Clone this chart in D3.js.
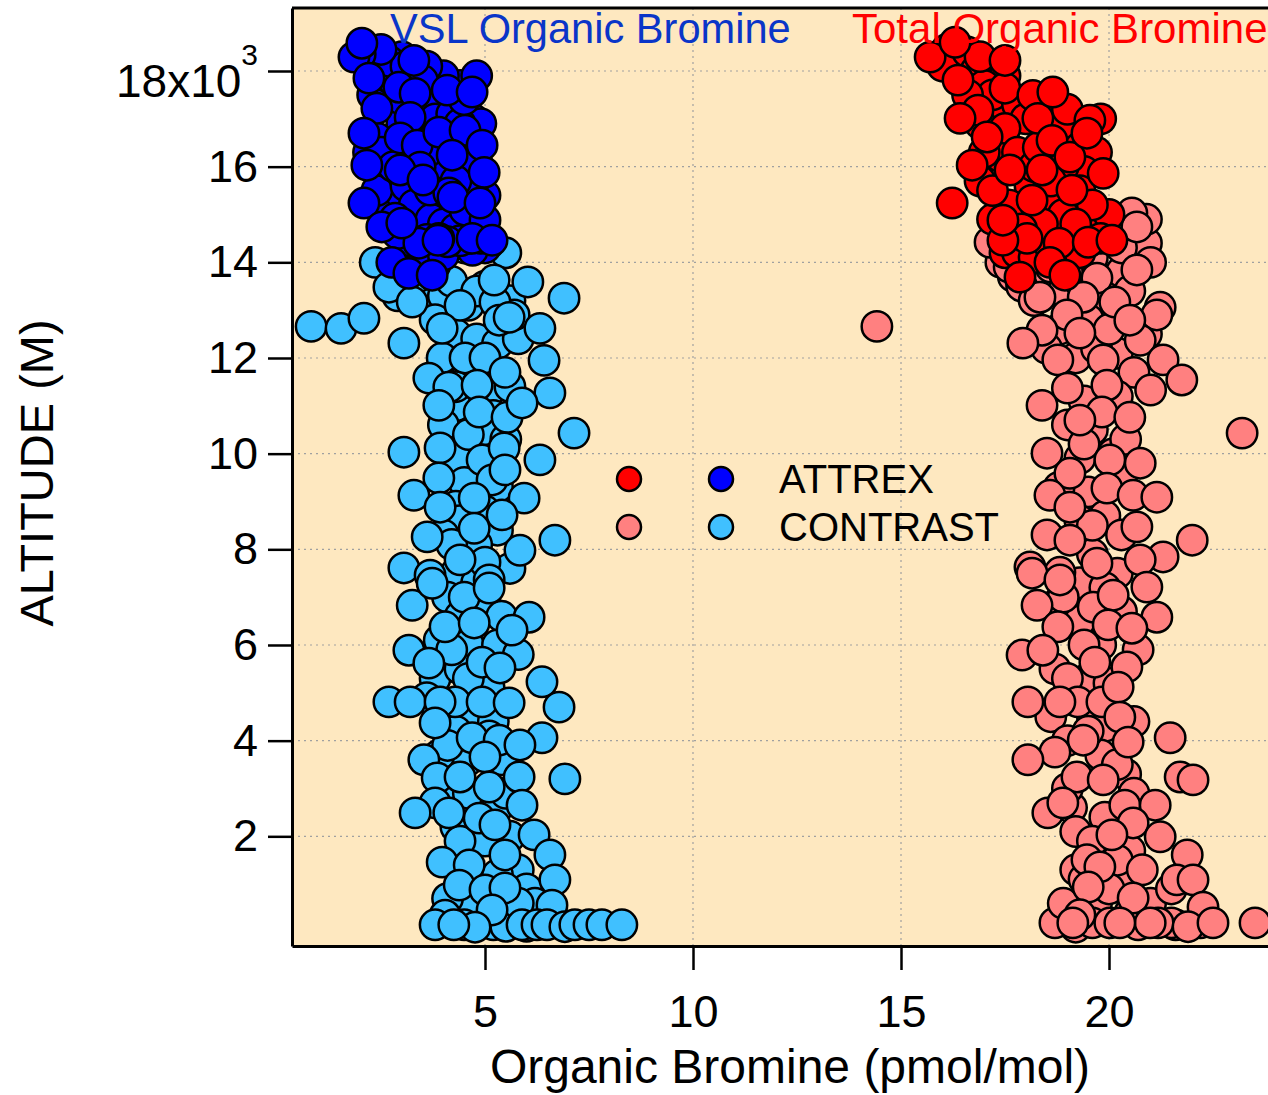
<!DOCTYPE html>
<html>
<head>
<meta charset="utf-8">
<script src="https://cdn.jsdelivr.net/npm/d3@7"></script>
<style>
  body { margin: 0; background: #fff; }
  svg { display: block; font-family: "Liberation Sans", Arial, sans-serif; }
</style>
</head>
<body>
<div id="chart"></div>
<script>
/* DATA: [organic bromine (pmol/mol), altitude (m)] */

// VSL organic bromine, CONTRAST (light blue)
const vslContrast = [
  [3.6,13400],[4.0,13300],[4.6,13100],[5.0,13500],[5.6,13200],[3.8,12800],[4.3,12500],[4.8,12400],
  [5.3,12300],[5.8,12400],[4.1,11800],[4.6,11700],[5.1,11300],[5.6,11400],[4.3,11000],[5.2,10800],
  [4.0,10600],[5.0,10500],[5.5,10300],[4.3,9900],[5.0,9600],[4.5,9400],[5.3,9300],[4.3,8900],
  [5.0,8800],[4.4,8600],[5.3,8400],[4.0,8300],[4.8,8100],[4.3,7500],[4.8,7300],[4.1,7000],
  [5.0,6900],[5.4,6600],[4.4,6600],[3.9,6100],[4.6,6000],[5.3,6000],[3.8,5300],[4.4,5500],
  [5.1,5100],[3.6,4900],[4.6,4500],[5.2,4400],[4.3,4200],[5.1,4100],[3.9,3700],[4.6,3600],
  [5.4,3600],[4.2,3000],[5.3,2600],[4.3,2200],[5.6,2000],[4.6,1800],[5.8,1300],[4.7,1100],
  [6.0,900],[5.2,750],[4.5,500],[5.6,300],[6.2,600],[4.5,150],[5.2,150],[5.5,120],[6.0,120],
  [3.4,13700],[4.2,13600],[4.8,13400],[2.9,13300],[4.5,14300],[5.5,14200],[3.8,13950],[4.4,13100],
  [5.7,12900],[4.3,11400],[4.6,10400],[4.2,8100],[5.6,7600],[4.5,7000],[4.2,5900],[4.6,5300],
  [5.8,5800],[4.1,3900],[4.6,2900],[5.5,2900],[5.0,1900],[4.4,1900],[5.3,1200],[4.1,700],[5.8,600],
  [2.36,14000],[2.69,13480],[3.25,13170],[5.24,13170],[5.22,13630],[6.03,13590],[6.90,13250],[6.32,12620],
  [0.82,12660],[1.54,12620],[2.09,12830],[3.05,12310],[3.97,12000],[4.52,12000],[5.00,12000],[3.97,12620],
  [5.34,12790],[5.58,12850],[5.48,11700],[6.42,11950],[6.56,11270],[3.65,11580],[4.13,11390],[4.81,11430],
  [3.89,11010],[4.86,10870],[5.53,10760],[5.89,11060],[7.14,10430],[3.05,10030],[3.92,10120],[4.93,9870],
  [5.46,10120],[6.32,9870],[5.17,9450],[5.48,9660],[3.89,9490],[3.29,9130],[3.92,8880],[4.74,9070],
  [5.94,9070],[5.41,8720],[4.74,8440],[3.61,8260],[6.68,8190],[5.84,7980],[5.00,7730],[3.05,7610],
  [3.68,7460],[5.10,7360],[4.40,7780],[3.25,6830],[4.04,6380],[4.74,6460],[6.06,6580],[5.65,6310],
  [5.10,7190],[3.73,7290],[3.17,5890],[3.65,5620],[4.93,5640],[5.36,5520],[6.37,5230],[6.78,4700],
  [2.69,4810],[3.20,4810],[4.28,4810],[3.92,4810],[4.93,4810],[5.58,4790],[3.80,4370],[4.69,4060],
  [5.34,4010],[6.37,4060],[5.84,3910],[3.53,3600],[5.00,3660],[3.85,3220],[4.40,3240],[5.82,3240],
  [6.92,3200],[5.10,3030],[3.80,2700],[3.32,2490],[4.13,2490],[4.86,2380],[5.24,2240],[5.89,2650],
  [6.18,2030],[6.56,1610],[3.97,1460],[4.62,1400],[5.48,1610],[4.38,980],[6.68,1090],[5.00,880],
  [5.48,920],[6.61,560],[5.17,460],[4.04,350],[4.76,100],
  [3.80,150],[4.25,150],[5.89,150],[6.25,150],[6.49,150],[6.92,110],[7.16,150],[7.50,150],[7.81,150],[8.29,150]
];

// VSL organic bromine, ATTREX (blue)
const vslAttrex = [
  [3.3,14350],[3.6,14350],[3.9,14380],[4.2,14350],[4.5,14380],[4.8,14380],[5.1,14400],[5.0,14300],
  [4.7,14250],[3.8,14250],[3.5,14200],[4.0,14150],
  [2.6,17500],[3.0,16900],[3.4,17100],[3.9,17300],[4.4,17700],[4.7,17000],[2.4,16600],[2.7,15600],
  [3.3,16000],[3.9,15800],[4.4,16500],[4.9,16900],[2.6,15100],[3.5,15000],[4.2,15100],[4.7,14900],
  [3.0,15400],[5.0,15400],[4.8,17900],[4.0,17900],[3.6,18100],[3.0,18300],[2.3,17500],[2.2,16300],[2.4,15500],
  [2.3,18000],[2.6,17900],[2.8,17800],[3.0,17400],[3.6,17300],[3.8,17000],[4.2,17100],[4.4,16900],
  [2.5,16300],[2.8,16000],[3.1,15600],[3.3,15200],[3.7,14900],[4.0,14800],[4.3,14700],[4.6,14500],
  [4.9,14500],[4.4,14450],[4.1,14430],[3.6,14480],[3.2,14450],[2.9,14600],[4.7,15600],[4.0,16000],
  [3.6,16300],[2.7,18200],[3.1,18100],[2.5,18450],[2.0,18350],[3.5,17800],[4.5,17400],[4.8,16100],[4.3,15700],
  [1.85,18290],[2.04,18580],[2.21,17850],[2.40,17220],[3.29,18220],[2.93,17660],[3.32,17530],[4.09,17600],
  [4.69,17560],[3.20,17030],[2.09,16700],[2.96,16600],[3.37,16450],[3.89,16720],[4.52,16760],[4.93,16450],
  [2.16,16030],[4.21,16240],[3.44,15990],[2.96,15930],[4.98,15880],[2.09,15240],[3.68,15510],[4.13,15450],
  [4.52,15090],[2.84,14920],[5.00,14880],[3.89,14500],[2.76,14000],[3.41,14400],[4.69,14500],[5.17,14460],
  [2.52,14740],[3.00,14820],[3.51,15720],[4.23,15360],[4.88,15240],[3.87,14460],[3.17,13770],[3.73,13730]
];

// Total organic bromine, CONTRAST (pink)
const totalContrast = [
  [17.4,14000],[17.7,13700],[18.1,13700],[18.4,13500],[18.9,13400],[19.3,13600],[19.9,13500],[20.3,13800],
  [20.9,14400],[21.0,14000],[20.5,13400],[19.9,12900],[19.5,12800],[18.8,12600],[18.5,12200],[19.2,12000],
  [20.2,12100],[20.9,12500],[20.6,11700],[20.2,11200],[19.4,11100],[19.0,10600],[19.6,10500],[20.1,10000],
  [19.3,9900],[20.3,9500],[19.5,9200],[18.8,9300],[19.9,8700],[19.3,8600],[20.3,8300],[19.6,7900],
  [20.2,7500],[19.3,7300],[19.9,7200],[18.8,6900],[19.3,6500],[20.3,6700],[19.8,6000],[20.7,5900],
  [18.7,5500],[19.5,5300],[20.0,5200],[18.6,4500],[19.6,4500],[19.9,4300],[20.6,4400],[19.0,4000],
  [19.8,3700],[20.4,3300],[19.1,2600],[19.9,2400],[20.6,2900],[19.2,2100],[19.8,1600],[20.5,1700],
  [19.2,1300],[20.2,1100],[19.7,600],[20.5,400],[21.0,600],[21.5,900],[19.2,100],[20.7,150],[21.6,150],
  [17.9,13500],[18.2,13200],[18.6,13900],[19.6,14100],[20.3,14300],[17.6,13900],[20.9,14900],[18.7,190],
  [19.6,190],[21.5,190],[22.2,190],[18.9,600],[19.4,1100],[20.2,1500],[19.6,1900],[19.0,3000],[19.5,4200],
  [19.0,5300],[19.4,6000],[18.9,7000],[19.6,8500],[19.4,10200],[19.7,12200],[19.0,13800],[20.0,12600],
  [20.4,10300],[20.2,3500],[20.8,1300],[20.0,900],
  [14.42,12660],[20.55,15030],[20.67,14740],[17.14,14420],[20.67,13840],[19.71,13670],[19.38,13270],[18.34,13270],
  [20.14,13170],[21.23,13060],[21.15,12900],[18.99,12900],[18.39,12580],[19.30,12520],[17.93,12310],[20.75,12370],
  [20.50,12790],[18.77,11960],[19.86,11960],[21.30,11960],[21.75,11540],[21.00,11330],[19.00,11370],[19.95,11430],
  [18.39,11010],[19.83,10870],[20.50,10760],[23.20,10430],[19.30,10700],[18.51,10010],[20.02,9870],[20.75,9800],
  [19.06,9590],[18.58,9130],[19.95,9280],[20.58,9130],[21.15,9090],[19.06,8880],[20.67,8470],[18.51,8300],
  [19.06,8190],[22.00,8190],[21.30,7840],[18.10,7630],[18.82,7520],[19.71,7710],[20.75,7780],[18.15,7500],
  [18.82,7360],[20.91,7210],[18.27,6830],[19.62,6790],[20.10,7040],[21.15,6580],[18.77,6380],[19.98,6420],
  [20.55,6350],[17.91,5790],[18.41,5890],[19.66,5640],[20.43,5540],[18.05,4810],[19.25,4810],[18.82,4810],
  [19.83,4810],[20.22,5120],[20.26,4490],[20.46,3970],[21.47,4060],[19.38,4010],[18.70,3760],[18.05,3600],
  [19.23,3240],[19.86,3180],[21.71,3240],[22.02,3180],[18.53,2490],[18.89,2700],[20.38,2650],[21.11,2650],
  [20.58,2280],[21.23,1990],[20.07,2030],[21.88,1610],[19.47,1510],[19.78,1360],[21.63,1090],[22.02,1090],
  [19.50,940],[20.58,710],[22.26,520],[19.30,360],[19.13,190],[20.02,190],[21.18,190],[20.99,190],
  [21.90,110],[22.50,190],[23.51,190],[20.26,190]
];

// Total organic bromine, ATTREX (red)
const totalAttrex = [
  [16.1,18450],[16.5,18200],[17.2,18000],[17.5,17900],[17.6,17400],[17.3,17000],[16.9,16900],[17.3,16500],
  [17.7,16100],[18.5,17200],[18.9,16800],[19.3,16400],[19.7,16300],[19.8,17000],[18.6,15200],[18.1,15600],
  [17.6,15200],[17.2,14900],[17.5,14200],[17.8,14200],[18.2,14100],[18.6,14300],[19.3,14200],[19.7,14700],
  [20.0,15000],[19.4,15900],[18.9,16000],[16.9,15700],[17.4,16200],
  [16.0,18100],[16.6,18400],[16.8,18000],[17.0,17700],[17.2,17500],[17.8,17300],[18.0,17000],[17.5,16800],
  [17.8,16300],[18.2,16000],[18.6,15700],[19.3,15500],[19.6,15200],[18.9,15000],[18.4,14800],[17.9,14700],
  [19.2,14800],[19.8,14500],[18.8,14400],[17.2,15500],[17.0,16300],[16.6,17500],[16.9,18300],[19.0,17200],[18.3,16400],
  [15.70,18290],[16.30,18600],[16.37,17810],[16.85,17180],[16.42,17010],[17.50,17640],[17.50,18220],[17.07,16620],
  [18.17,17490],[18.29,17010],[18.65,17560],[18.63,16550],[19.06,16200],[19.54,16970],[19.47,16700],[19.86,15860],
  [19.11,15510],[18.39,15930],[17.62,15930],[16.71,16030],[16.23,15240],[18.03,14500],[18.58,14000],[17.86,13690],
  [19.50,14420],[20.07,14460],[18.15,15300],[17.45,14460],[18.94,13730],[17.45,14880]
];

const xTicks = [5, 10, 15, 20];
const yTicks = [2000, 4000, 6000, 8000, 10000, 12000, 14000, 16000, 18000];
const titles = ["VSL Organic Bromine", "Total Organic Bromine"];
const legendNames = ["ATTREX", "CONTRAST"];

/* LAYOUT */
const W = 1268, H = 1095;
const plotLeft = 292, plotRight = 1268, plotTop = 8, plotBottom = 946;
const colors = { attrexTotal: "#ff0000", attrexVsl: "#0000ff", contrastTotal: "#ff8080", contrastVsl: "#40c0ff" };

const svg = d3.select("#chart").append("svg").attr("width", W).attr("height", H);

const x = d3.scaleLinear().domain([0.3606, 23.822]).range([plotLeft, plotRight]);
const y = d3.scaleLinear().domain([-293, 19317]).range([plotBottom, plotTop]);

// plot background
svg.append("rect")
    .attr("x", plotLeft).attr("y", plotTop)
    .attr("width", plotRight - plotLeft).attr("height", plotBottom - plotTop)
    .attr("fill", "#fee8c0");

// dotted grid
const grid = svg.append("g").attr("stroke", "#a0a0a0").attr("stroke-width", 1.2).attr("stroke-dasharray", "2,4");
grid.selectAll(".gx").data(xTicks).enter().append("line")
    .attr("x1", d => x(d)).attr("x2", d => x(d)).attr("y1", plotTop).attr("y2", plotBottom);
grid.selectAll(".gy").data(yTicks).enter().append("line")
    .attr("y1", d => y(d)).attr("y2", d => y(d)).attr("x1", plotLeft).attr("x2", plotRight);

// scatter points: CONTRAST underneath, ATTREX on top
function drawPoints(data, fill) {
    svg.append("g").selectAll("circle")
        .data(data)
        .enter()
            .append("circle")
            .attr("cx", d => x(d[0]))
            .attr("cy", d => y(d[1]))
            .attr("r", 15.2)
            .attr("fill", fill)
            .attr("stroke", "#000")
            .attr("stroke-width", 2.5);
}
drawPoints(vslContrast, colors.contrastVsl);
drawPoints(totalContrast, colors.contrastTotal);
drawPoints(vslAttrex, colors.attrexVsl);
drawPoints(totalAttrex, colors.attrexTotal);

// axes
const yAxis = svg.append("g")
    .attr("transform", `translate(${plotLeft},0)`)
    .call(d3.axisLeft(y).tickValues(yTicks).tickSize(24).tickSizeOuter(0).tickPadding(10)
        .tickFormat(d => d / 1000));
yAxis.select(".domain").attr("stroke-width", 3);
yAxis.selectAll(".tick line").attr("stroke-width", 2.5);
yAxis.selectAll(".tick text")
    .attr("font-size", 45)
    .attr("font-family", "Liberation Sans, Arial, sans-serif")
    .attr("fill", "#000")
    .attr("dy", "0.32em");
yAxis.selectAll(".tick text").filter(d => d === 18000)
    .text("18x10")
    .attr("font-size", 46)
    .attr("dy", "0.56em")
    .append("tspan")
        .attr("dy", -32)
        .attr("font-size", 30)
        .text("3");

const xAxis = svg.append("g")
    .attr("transform", `translate(0,${plotBottom})`)
    .call(d3.axisBottom(x).tickValues(xTicks).tickSize(24).tickSizeOuter(0));
xAxis.select(".domain").attr("stroke-width", 3);
xAxis.selectAll(".tick line").attr("stroke-width", 2.5);
xAxis.selectAll(".tick text")
    .attr("font-size", 45)
    .attr("font-family", "Liberation Sans, Arial, sans-serif")
    .attr("fill", "#000")
    .attr("y", 81)
    .attr("dy", 0);

// top frame line
svg.append("line")
    .attr("x1", plotLeft).attr("x2", plotRight).attr("y1", plotTop).attr("y2", plotTop)
    .attr("stroke", "#000").attr("stroke-width", 3);

// axis labels
svg.append("text")
    .attr("x", 790).attr("y", 1083)
    .attr("text-anchor", "middle")
    .attr("font-size", 48)
    .text("Organic Bromine (pmol/mol)");

svg.append("text")
    .attr("transform", "translate(53,473) rotate(-90)")
    .attr("text-anchor", "middle")
    .attr("font-size", 47)
    .text("ALTITUDE (M)");

// panel titles
svg.append("text")
    .attr("x", 390).attr("y", 43)
    .attr("font-size", 41.6)
    .attr("fill", "#0a35c8")
    .text(titles[0]);
svg.append("text")
    .attr("x", 852).attr("y", 43)
    .attr("font-size", 42)
    .attr("fill", "#ff0000")
    .text(titles[1]);

// legend
const legend = svg.append("g");
const legendRows = [
    { name: legendNames[0], c1: colors.attrexTotal, c2: colors.attrexVsl, cy: 479 },
    { name: legendNames[1], c1: colors.contrastTotal, c2: colors.contrastVsl, cy: 527 }
];
legendRows.forEach(row => {
    legend.append("circle").attr("cx", 629).attr("cy", row.cy).attr("r", 12)
        .attr("fill", row.c1).attr("stroke", "#000").attr("stroke-width", 2.5);
    legend.append("circle").attr("cx", 721).attr("cy", row.cy).attr("r", 12)
        .attr("fill", row.c2).attr("stroke", "#000").attr("stroke-width", 2.5);
    legend.append("text").attr("x", 779).attr("y", row.cy + 14)
        .attr("font-size", 40).text(row.name);
});
</script>
</body>
</html>
